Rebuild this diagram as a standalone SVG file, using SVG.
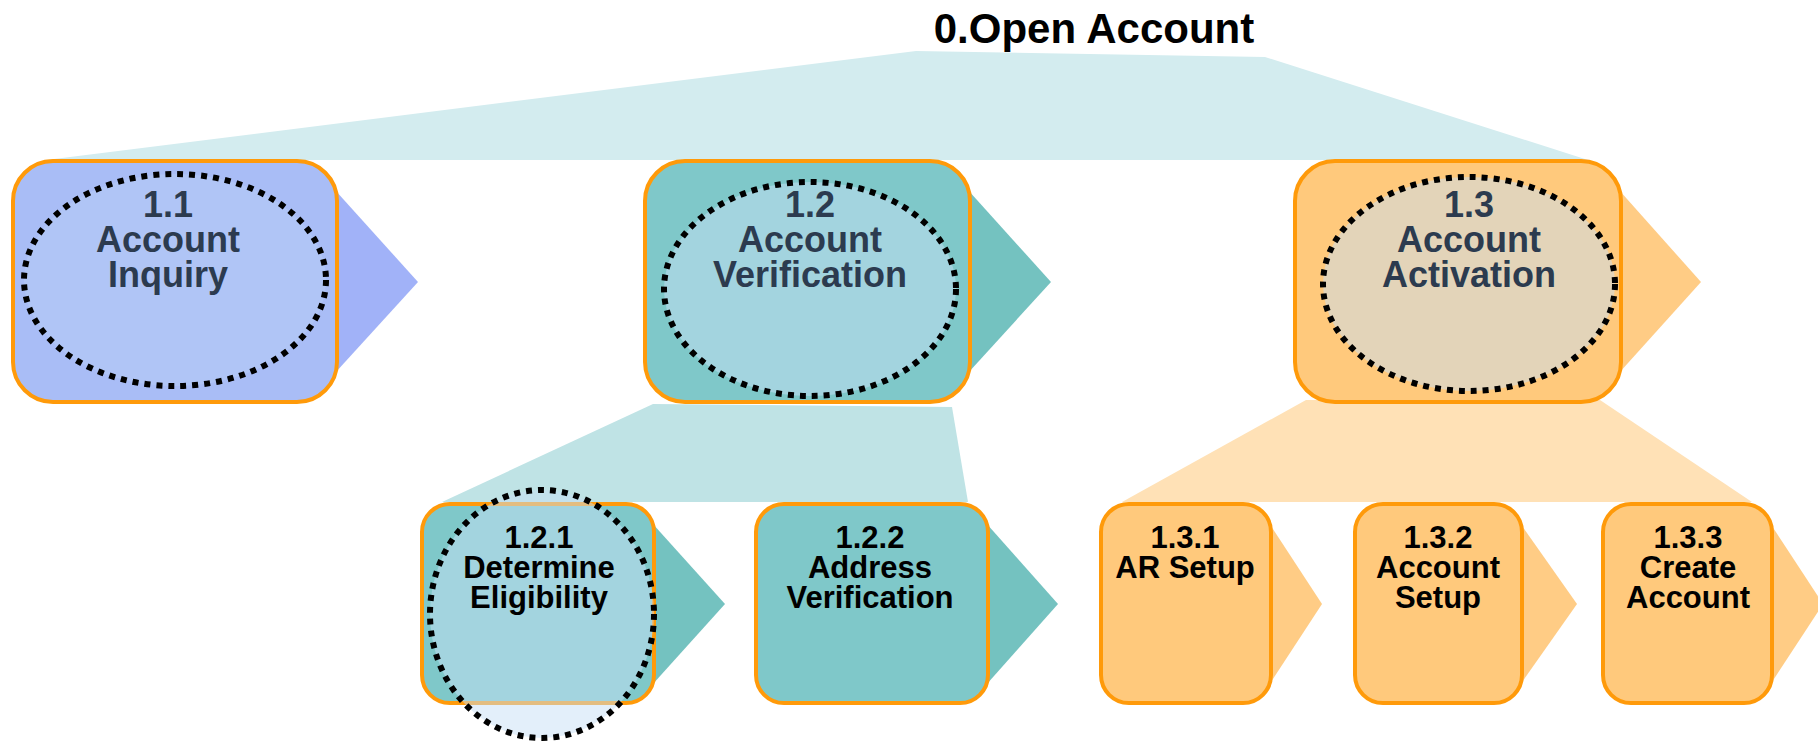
<svg xmlns="http://www.w3.org/2000/svg" width="1818" height="745" viewBox="0 0 1818 745">
<style>
text{font-family:"Liberation Sans",Arial,sans-serif;font-weight:bold;text-anchor:middle}
.box{stroke:#FF9A0A;stroke-width:4}
.oval{fill:#C7E0F6;fill-opacity:0.5;stroke:#000;stroke-width:6;stroke-dasharray:6 6}
.up{font-size:36px;fill:#2C3B4F}
.lo{font-size:31px;fill:#000}
.blue{fill:#A9BDF6}
.blueT{fill:#A1B2F8}
.teal{fill:#7FC8C9}
.tealT{fill:#74C2C0}
.org{fill:#FFC97C}
.orgT{fill:#FFCC85}
</style>
<rect width="1818" height="745" fill="#fff"/>
<text x="1094" y="43" style="font-size:42px;fill:#000">0.Open Account</text>
<g id="connectors">
<polygon points="916,51 1265,57 1588,160 46,160" fill="#D3ECEF"/>
<polygon points="653,404 952,407 968,502 442,502" fill="#BFE3E5"/>
<polygon points="1306,400 1600,400 1752,502 1122,502" fill="#FFE1B6"/>
</g>
<g id="n1_1">
<polygon class="blueT" points="335,190 418,282 335,373"/>
<rect class="box blue" x="13" y="161" width="324" height="241" rx="40"/>
<ellipse class="oval" cx="175" cy="280" rx="151" ry="106" style="fill-opacity:0.25"/>
<text class="up" x="168" y="217">1.1<tspan x="168" dy="35">Account</tspan><tspan x="168" dy="35">Inquiry</tspan></text>
</g>
<g id="n1_2">
<polygon class="tealT" points="968,190 1051,282 968,373"/>
<rect class="box teal" x="645" y="161" width="325" height="241" rx="40"/>
<ellipse class="oval" cx="810" cy="289" rx="146" ry="107"/>
<text class="up" x="810" y="217">1.2<tspan x="810" dy="35">Account</tspan><tspan x="810" dy="35">Verification</tspan></text>
</g>
<g id="n1_3">
<polygon class="orgT" points="1619,190 1701,282 1619,373"/>
<rect class="box org" x="1295" y="161" width="326" height="241" rx="40"/>
<ellipse class="oval" cx="1469" cy="284" rx="146" ry="107"/>
<text class="up" x="1469" y="217">1.3<tspan x="1469" dy="35">Account</tspan><tspan x="1469" dy="35">Activation</tspan></text>
</g>
<g id="n1_2_1">
<polygon class="tealT" points="652,523 725,604 652,685"/>
<rect class="box teal" x="422" y="504" width="232" height="199" rx="28"/>
<ellipse class="oval" cx="542" cy="614" rx="112" ry="124"/>
<text class="lo" x="539" y="548">1.2.1<tspan x="539" dy="30">Determine</tspan><tspan x="539" dy="30">Eligibility</tspan></text>
</g>
<g id="n1_2_2">
<polygon class="tealT" points="986,523 1058,604 986,685"/>
<rect class="box teal" x="756" y="504" width="232" height="199" rx="28"/>
<text class="lo" x="870" y="548">1.2.2<tspan x="870" dy="30">Address</tspan><tspan x="870" dy="30">Verification</tspan></text>
</g>
<g id="n1_3_1">
<polygon class="orgT" points="1269,523 1322,604 1269,685"/>
<rect class="box org" x="1101" y="504" width="170" height="199" rx="28"/>
<text class="lo" x="1185" y="548">1.3.1<tspan x="1185" dy="30">AR Setup</tspan></text>
</g>
<g id="n1_3_2">
<polygon class="orgT" points="1520,523 1577,604 1520,685"/>
<rect class="box org" x="1355" y="504" width="167" height="199" rx="28"/>
<text class="lo" x="1438" y="548">1.3.2<tspan x="1438" dy="30">Account</tspan><tspan x="1438" dy="30">Setup</tspan></text>
</g>
<g id="n1_3_3">
<polygon class="orgT" points="1770,523 1823,604 1770,685"/>
<rect class="box org" x="1603" y="504" width="169" height="199" rx="28"/>
<text class="lo" x="1688" y="548">1.3.3<tspan x="1688" dy="30">Create</tspan><tspan x="1688" dy="30">Account</tspan></text>
</g>
</svg>
